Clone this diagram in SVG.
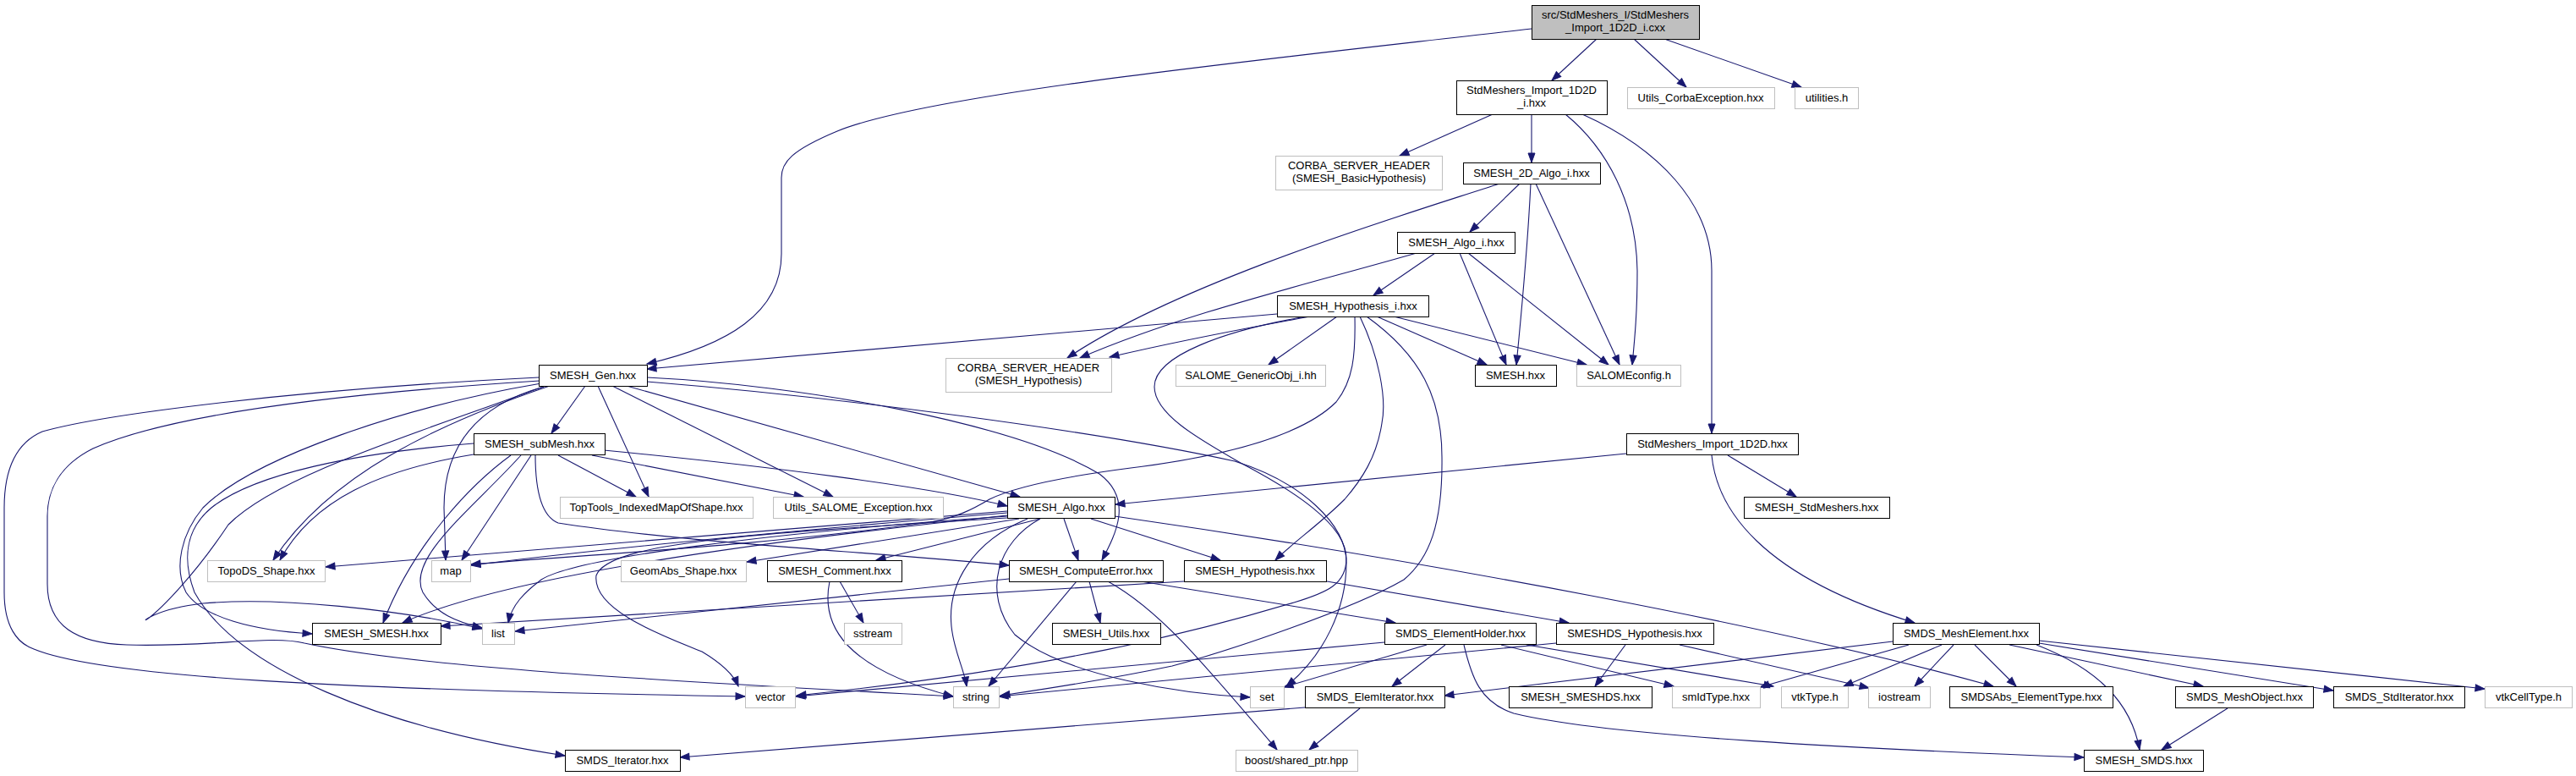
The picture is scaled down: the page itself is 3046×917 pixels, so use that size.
<svg xmlns="http://www.w3.org/2000/svg" width="3046" height="917" viewBox="0 0 3046 917">
<style>
text{font-family:"Liberation Sans",Arial,Helvetica,sans-serif;font-size:13px;text-anchor:middle;fill:#000}
.n rect{fill:#fff;stroke:#000;stroke-width:1}
.u rect{fill:#fff;stroke:#bfbfbf;stroke-width:1}
.r rect{fill:#bfbfbf;stroke:#000;stroke-width:1}
#edges path{fill:none;stroke:#191970;stroke-width:1.1;marker-end:url(#a)}
</style>
<defs>
<marker id="a" markerUnits="userSpaceOnUse" markerWidth="14" markerHeight="10" refX="11" refY="4" orient="auto" overflow="visible">
<path d="M0,0 L11,4 L0,8 z" fill="#191970" stroke="#191970" stroke-width="1"/>
</marker>
</defs>
<rect width="3046" height="917" fill="#fff"/>
<g id="edges">
<path d="M1888,46 L1835,95"/>
<path d="M1932,46 L1994,103"/>
<path d="M1968,46 L2130,103"/>
<path d="M1811,34 C1500,70 1100,110 990,155 C935,178 924,192 924,210 L924,300 C924,370 860,408 765,430"/>
<path d="M1765,135 L1655,184"/>
<path d="M1811,135 L1811,192"/>
<path d="M1851,135 C1900,175 1935,240 1936,320 C1936,370 1933,400 1930,431"/>
<path d="M1871,135 C1960,175 2024,240 2024,320 L2024,512"/>
<path d="M1797,217 L1738,274"/>
<path d="M1773,217 C1680,248 1400,330 1262,423"/>
<path d="M1810,217 C1806,300 1798,380 1793,431"/>
<path d="M1816,217 L1915,431"/>
<path d="M1697,299 L1624,349"/>
<path d="M1675,299 C1550,335 1400,370 1277,423"/>
<path d="M1726,299 L1781,431"/>
<path d="M1736,299 L1902,431"/>
<path d="M1510,371 L765,436"/>
<path d="M1549,374 C1450,392 1380,406 1312,422"/>
<path d="M1581,374 L1500,431"/>
<path d="M1628,374 L1758,431"/>
<path d="M1648,374 L1876,431"/>
<path d="M1608,374 C1630,420 1640,470 1634,500 C1628,540 1610,567 1590,590 C1560,620 1530,640 1508,662"/>
<path d="M1602,374 C1603,420 1600,450 1580,475 C1550,505 1480,535 1337,553 C1260,563 1200,575 1170,590 C1150,602 1130,612 1100,617 C900,645 700,655 557,667"/>
<path d="M1616,374 C1680,420 1705,470 1705,540 C1706,620 1690,660 1660,685 C1600,720 1450,770 1386,787 C1300,805 1230,815 1183,822"/>
<path d="M1545,374 C1450,390 1365,420 1365,457 C1365,490 1420,520 1467,547 C1530,580 1592,620 1592,660 C1592,690 1570,700 1530,712 C1420,745 1250,790 942,822"/>
<path d="M692,456 L652,512"/>
<path d="M707,456 L767,587"/>
<path d="M724,456 L985,587"/>
<path d="M741,456 L1206,587"/>
<path d="M765,446 C950,455 1200,500 1300,560 C1340,590 1320,630 1303,662"/>
<path d="M765,451 C1000,470 1300,510 1460,545 C1540,570 1592,620 1592,665 C1592,720 1565,775 1521,811"/>
<path d="M637,446 C350,460 120,490 50,510 C15,525 5,560 5,600 L5,700 C5,740 20,760 40,767 C120,800 400,815 881,823"/>
<path d="M638,450 C400,465 200,490 110,530 C70,550 56,580 56,610 L56,690 C56,740 90,760 150,762 C250,765 320,750 360,760 C500,790 800,805 1127,823"/>
<path d="M650,456 C520,500 390,560 323,662"/>
<path d="M560,537 C450,555 370,590 331,662"/>
<path d="M640,453 C480,480 300,540 240,600 C215,630 205,670 220,700 C240,730 300,745 369,749"/>
<path d="M560,524 C420,535 300,560 250,600 C220,625 215,660 230,700 C280,790 450,860 668,893"/>
<path d="M645,456 C500,510 330,560 270,620 C230,680 190,720 175,731 C165,738 180,720 240,713 C330,705 470,720 570,743"/>
<path d="M643,457 C560,480 525,530 525,600 L527,662"/>
<path d="M628,538 L546,662"/>
<path d="M604,538 C560,570 490,640 453,736"/>
<path d="M616,538 C560,600 480,660 500,700 C515,725 540,735 570,742"/>
<path d="M660,538 L752,587"/>
<path d="M700,538 L950,587"/>
<path d="M714,532 C900,550 1100,575 1191,598"/>
<path d="M633,538 C633,580 640,610 660,618 C800,640 1000,650 1193,668"/>
<path d="M1923,536 L1319,596"/>
<path d="M2043,538 L2124,587"/>
<path d="M2024,538 C2030,600 2080,680 2264,736"/>
<path d="M1191,604 L385,670"/>
<path d="M1191,606 C900,630 700,650 557,668"/>
<path d="M1191,609 C900,640 600,680 476,736"/>
<path d="M1191,610 C900,630 680,660 640,685 C620,700 605,715 601,736"/>
<path d="M1205,613 L883,664"/>
<path d="M1230,613 L1036,662"/>
<path d="M1258,613 L1275,662"/>
<path d="M1290,613 L1443,662"/>
<path d="M1215,613 C1150,640 1120,690 1125,740 C1128,770 1140,790 1143,811"/>
<path d="M1230,613 C1180,640 1160,700 1200,750 C1260,800 1400,820 1478,824"/>
<path d="M1318,610 C1700,665 2100,740 2357,811"/>
<path d="M1191,612 C900,630 720,640 705,680 C700,720 780,750 830,770 C855,785 868,798 873,811"/>
<path d="M1288,687 L1301,736"/>
<path d="M1273,687 L1169,811"/>
<path d="M1310,687 C1370,720 1420,780 1510,886"/>
<path d="M1193,684 L609,746"/>
<path d="M1349,687 L1650,736"/>
<path d="M1400,687 L521,740"/>
<path d="M1569,687 L1855,736"/>
<path d="M993,687 L1021,736"/>
<path d="M981,687 C970,740 1000,790 1127,823"/>
<path d="M1709,762 L1646,811"/>
<path d="M1731,762 C1740,800 1750,830 1790,843 C1900,870 2200,885 2464,895"/>
<path d="M1775,762 L1979,811"/>
<path d="M1805,762 L2097,811"/>
<path d="M1637,759 L941,823"/>
<path d="M1687,762 L1518,812"/>
<path d="M1922,762 L1886,811"/>
<path d="M1840,760 L1181,823"/>
<path d="M1986,762 L2210,813"/>
<path d="M2238,758 L1708,822"/>
<path d="M2257,762 L2081,812"/>
<path d="M2296,762 L2180,811"/>
<path d="M2310,762 L2264,811"/>
<path d="M2335,762 L2384,811"/>
<path d="M2408,762 C2480,790 2520,830 2530,886"/>
<path d="M2376,762 L2605,811"/>
<path d="M2411,760 L2759,816"/>
<path d="M2411,757 L2938,814"/>
<path d="M2634,837 L2556,886"/>
<path d="M1543,836 L804,895"/>
<path d="M1608,837 L1548,886"/>
</g>
<g id="n1" class="r"><rect x="1811.5" y="6.5" width="198" height="40"/><text x="1910" y="21.5">src/StdMeshers_I/StdMeshers</text><text x="1910" y="36.5">_Import_1D2D_i.cxx</text></g>
<g id="n2" class="n"><rect x="1722.5" y="95.5" width="178" height="40"/><text x="1811" y="110.5">StdMeshers_Import_1D2D</text><text x="1811" y="125.5">_i.hxx</text></g>
<g id="n3" class="u"><rect x="1924.5" y="103.5" width="174" height="25"/><text x="2011" y="120">Utils_CorbaException.hxx</text></g>
<g id="n4" class="u"><rect x="2122.5" y="103.5" width="75" height="25"/><text x="2160" y="120">utilities.h</text></g>
<g id="n5" class="u"><rect x="1508.5" y="184.5" width="197" height="40"/><text x="1607" y="199.5">CORBA_SERVER_HEADER</text><text x="1607" y="214.5">(SMESH_BasicHypothesis)</text></g>
<g id="n6" class="n"><rect x="1730.5" y="192.5" width="162" height="25"/><text x="1811" y="209">SMESH_2D_Algo_i.hxx</text></g>
<g id="n7" class="n"><rect x="1652.5" y="274.5" width="139" height="25"/><text x="1722" y="291">SMESH_Algo_i.hxx</text></g>
<g id="n8" class="n"><rect x="1510.5" y="349.5" width="179" height="25"/><text x="1600" y="366">SMESH_Hypothesis_i.hxx</text></g>
<g id="n9" class="n"><rect x="637.5" y="431.5" width="128" height="25"/><text x="701" y="448">SMESH_Gen.hxx</text></g>
<g id="n10" class="u"><rect x="1118.5" y="423.5" width="196" height="40"/><text x="1216" y="438.5">CORBA_SERVER_HEADER</text><text x="1216" y="453.5">(SMESH_Hypothesis)</text></g>
<g id="n11" class="u"><rect x="1390.5" y="431.5" width="177" height="25"/><text x="1479" y="448">SALOME_GenericObj_i.hh</text></g>
<g id="n12" class="n"><rect x="1744.5" y="431.5" width="96" height="25"/><text x="1792" y="448">SMESH.hxx</text></g>
<g id="n13" class="u"><rect x="1864.5" y="431.5" width="123" height="25"/><text x="1926" y="448">SALOMEconfig.h</text></g>
<g id="n14" class="n"><rect x="560.5" y="512.5" width="155" height="25"/><text x="638" y="529">SMESH_subMesh.hxx</text></g>
<g id="n15" class="n"><rect x="1923.5" y="512.5" width="203" height="25"/><text x="2025" y="529">StdMeshers_Import_1D2D.hxx</text></g>
<g id="n16" class="u"><rect x="662.5" y="587.5" width="228" height="25"/><text x="776" y="604">TopTools_IndexedMapOfShape.hxx</text></g>
<g id="n17" class="u"><rect x="914.5" y="587.5" width="201" height="25"/><text x="1015" y="604">Utils_SALOME_Exception.hxx</text></g>
<g id="n18" class="n"><rect x="1191.5" y="587.5" width="127" height="25"/><text x="1255" y="604">SMESH_Algo.hxx</text></g>
<g id="n19" class="n"><rect x="2062.5" y="587.5" width="172" height="25"/><text x="2148" y="604">SMESH_StdMeshers.hxx</text></g>
<g id="n20" class="u"><rect x="245.5" y="662.5" width="139" height="25"/><text x="315" y="679">TopoDS_Shape.hxx</text></g>
<g id="n21" class="u"><rect x="510.5" y="662.5" width="46" height="25"/><text x="533" y="679">map</text></g>
<g id="n22" class="u"><rect x="734.5" y="662.5" width="148" height="25"/><text x="808" y="679">GeomAbs_Shape.hxx</text></g>
<g id="n23" class="n"><rect x="907.5" y="662.5" width="159" height="25"/><text x="987" y="679">SMESH_Comment.hxx</text></g>
<g id="n24" class="n"><rect x="1193.5" y="662.5" width="182" height="25"/><text x="1284" y="679">SMESH_ComputeError.hxx</text></g>
<g id="n25" class="n"><rect x="1400.5" y="662.5" width="168" height="25"/><text x="1484" y="679">SMESH_Hypothesis.hxx</text></g>
<g id="n26" class="n"><rect x="369.5" y="736.5" width="152" height="25"/><text x="445" y="753">SMESH_SMESH.hxx</text></g>
<g id="n27" class="u"><rect x="570.5" y="736.5" width="38" height="25"/><text x="589" y="753">list</text></g>
<g id="n28" class="u"><rect x="998.5" y="736.5" width="68" height="25"/><text x="1032" y="753">sstream</text></g>
<g id="n29" class="n"><rect x="1244.5" y="736.5" width="128" height="25"/><text x="1308" y="753">SMESH_Utils.hxx</text></g>
<g id="n30" class="n"><rect x="1637.5" y="736.5" width="179" height="25"/><text x="1727" y="753">SMDS_ElementHolder.hxx</text></g>
<g id="n31" class="n"><rect x="1840.5" y="736.5" width="186" height="25"/><text x="1933" y="753">SMESHDS_Hypothesis.hxx</text></g>
<g id="n32" class="n"><rect x="2238.5" y="736.5" width="173" height="25"/><text x="2325" y="753">SMDS_MeshElement.hxx</text></g>
<g id="n33" class="u"><rect x="881.5" y="811.5" width="59" height="25"/><text x="911" y="828">vector</text></g>
<g id="n34" class="u"><rect x="1127.5" y="811.5" width="54" height="25"/><text x="1154" y="828">string</text></g>
<g id="n35" class="u"><rect x="1478.5" y="811.5" width="40" height="25"/><text x="1498" y="828">set</text></g>
<g id="n36" class="n"><rect x="1543.5" y="811.5" width="165" height="25"/><text x="1626" y="828">SMDS_ElemIterator.hxx</text></g>
<g id="n37" class="n"><rect x="1784.5" y="811.5" width="169" height="25"/><text x="1869" y="828">SMESH_SMESHDS.hxx</text></g>
<g id="n38" class="u"><rect x="1977.5" y="811.5" width="104" height="25"/><text x="2029" y="828">smIdType.hxx</text></g>
<g id="n39" class="u"><rect x="2106.5" y="811.5" width="79" height="25"/><text x="2146" y="828">vtkType.h</text></g>
<g id="n40" class="u"><rect x="2209.5" y="811.5" width="73" height="25"/><text x="2246" y="828">iostream</text></g>
<g id="n41" class="n"><rect x="2305.5" y="811.5" width="193" height="25"/><text x="2402" y="828">SMDSAbs_ElementType.hxx</text></g>
<g id="n42" class="n"><rect x="2572.5" y="811.5" width="163" height="25"/><text x="2654" y="828">SMDS_MeshObject.hxx</text></g>
<g id="n43" class="n"><rect x="2759.5" y="811.5" width="155" height="25"/><text x="2837" y="828">SMDS_StdIterator.hxx</text></g>
<g id="n44" class="u"><rect x="2938.5" y="811.5" width="103" height="25"/><text x="2990" y="828">vtkCellType.h</text></g>
<g id="n45" class="n"><rect x="668.5" y="886.5" width="136" height="25"/><text x="736" y="903">SMDS_Iterator.hxx</text></g>
<g id="n46" class="u"><rect x="1461.5" y="886.5" width="144" height="25"/><text x="1533" y="903">boost/shared_ptr.hpp</text></g>
<g id="n47" class="n"><rect x="2464.5" y="886.5" width="141" height="25"/><text x="2535" y="903">SMESH_SMDS.hxx</text></g>
</svg>
